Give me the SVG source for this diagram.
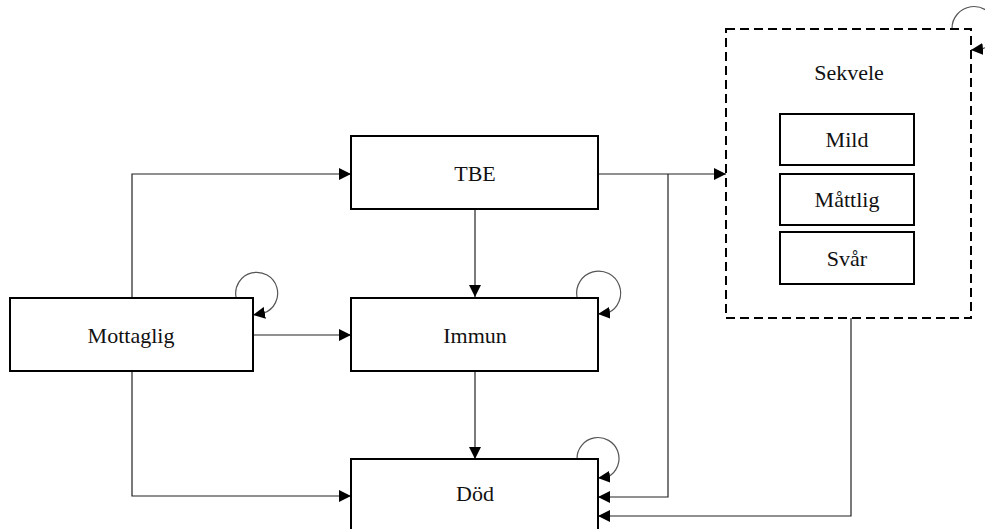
<svg xmlns="http://www.w3.org/2000/svg" width="985" height="529" viewBox="0 0 985 529">
  <defs>
    <marker id="arrow" markerUnits="userSpaceOnUse" markerWidth="12" markerHeight="12" refX="12" refY="6" orient="auto">
      <path d="M0,0 L12,6 L0,12 z" fill="#000"/>
    </marker>
    <style>
      .box { fill: #fff; stroke: #000; stroke-width: 2; }
      .dash { fill: #fff; stroke: #000; stroke-width: 2; stroke-dasharray: 9 5; }
      text { font-family: "Liberation Serif", "Times New Roman", Times, serif; font-size: 22px; fill: #111; text-anchor: middle; }
      .edge { fill: none; stroke: #222; stroke-width: 1.2; marker-end: url(#arrow); }
      .loop { fill: none; stroke: #555; stroke-width: 1.2; marker-end: url(#arrow); }
    </style>
  </defs>
  <rect width="985" height="529" fill="#fff"/>

  <g id="connectors">
    <!-- Mottaglig -> TBE -->
    <path class="edge" d="M132,297 V174 H351"/>
    <!-- Mottaglig -> Immun -->
    <path class="edge" d="M253,335 H351"/>
    <!-- Mottaglig -> Död -->
    <path class="edge" d="M132,371 V496 H351"/>
    <!-- TBE -> Immun -->
    <path class="edge" d="M475,209 V297"/>
    <!-- Immun -> Död -->
    <path class="edge" d="M475,371 V459"/>
    <!-- TBE -> Sekvele -->
    <path class="edge" d="M598,174 H726"/>
    <!-- TBE -> Död -->
    <path class="edge" d="M668,174 V497 H598"/>
    <!-- Sekvele -> Död -->
    <path class="edge" d="M851,318 V516 H598"/>
    <!-- self loops -->
    <path class="loop" d="M236,297 A21,21 0 1 1 264,313 L253,315"/>
    <path class="loop" d="M577,297 A22,22 0 1 1 608,313 L598,314"/>
    <path class="loop" d="M577,459 A21,21 0 1 1 608,477 L598,478"/>
    <path class="loop" d="M952,29 A22,22 0 1 1 982,49 L971,50"/>
  </g>

  <g id="sekvele">
    <rect class="dash" x="726" y="29" width="245" height="289"/>
    <text x="849" y="80">Sekvele</text>
  </g>
  <g id="mild">
    <rect class="box" x="780" y="114" width="134" height="51"/>
    <text x="847" y="147">Mild</text>
  </g>
  <g id="mattlig">
    <rect class="box" x="780" y="174" width="134" height="51"/>
    <text x="847" y="207">Måttlig</text>
  </g>
  <g id="svar">
    <rect class="box" x="780" y="232" width="134" height="52"/>
    <text x="847" y="266">Svår</text>
  </g>

  <g id="mottaglig">
    <rect class="box" x="10" y="298" width="243" height="73"/>
    <text x="131" y="343">Mottaglig</text>
  </g>
  <g id="tbe">
    <rect class="box" x="351" y="136" width="247" height="73"/>
    <text x="475" y="181">TBE</text>
  </g>
  <g id="immun">
    <rect class="box" x="351" y="298" width="247" height="73"/>
    <text x="475" y="343">Immun</text>
  </g>
  <g id="dod">
    <rect class="box" x="351" y="459" width="247" height="74"/>
    <text x="475" y="501">Död</text>
  </g>
</svg>
